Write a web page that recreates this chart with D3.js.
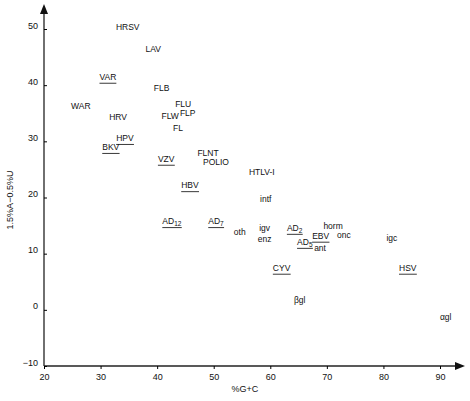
<!DOCTYPE html><html><head><meta charset="utf-8">
<script src="https://cdn.jsdelivr.net/npm/d3@7"></script>
<style>body{margin:0;background:#fff}text{font-family:"Liberation Sans",Arial,sans-serif;fill:#111}</style></head><body>
<svg id="c" width="470" height="401"></svg>
<script>
const labels=["HRSV","LAV","VAR","FLB","WAR","FLU","FLW","FLP","HRV","FL","HPV","BKV","VZV","FLNT","POLIO","HTLV-I","HBV","intf","AD|12","AD|7","oth","igv","enz","AD|2","horm","EBV","onc","AD|5","ant","igc","CYV","HSV","βgl","αgl"];
const xs=[34.8,39.3,31.3,40.8,26.5,44.6,42.3,45.4,33.1,43.7,34.3,31.8,41.6,49.0,50.4,58.5,45.8,59.2,42.6,50.4,54.6,59.0,59.0,64.3,71.1,68.9,73.0,66.1,68.8,81.5,62.0,84.3,65.2,91.0];
const ys=[50.4,46.4,41.5,39.5,36.3,36.7,34.5,35.1,34.3,32.4,30.6,29.0,26.9,27.9,26.3,24.6,22.2,19.8,15.8,15.8,13.9,14.6,12.6,14.6,14.9,13.2,13.3,12.1,11.0,12.8,7.5,7.5,1.8,-1.2];
const underlined=["VAR","HPV","BKV","VZV","HBV","AD|12","AD|7","AD|2","EBV","AD|5","CYV","HSV"];
const xTicks=[20,30,40,50,60,70,80,90], yTicks=[-10,0,10,20,30,40,50];
const svg=d3.select("#c");
const x=d3.scaleLinear().domain([20,90]).range([44,440]);
const y=d3.scaleLinear().domain([-10,50]).range([366,29]);
svg.append("g").attr("transform","translate(0,366)").call(d3.axisBottom(x).tickValues(xTicks).tickSize(3).tickFormat(d3.format("d")))
 .call(g=>{g.select(".domain").attr("d","M44,0H455");g.selectAll("text").attr("font-size",9).attr("dy","0.9em")});
svg.append("g").attr("transform","translate(44,0)").call(d3.axisLeft(y).tickValues(yTicks).tickSize(-3).tickFormat(d3.format("d")))
 .call(g=>{g.select(".domain").attr("d","M0,366V12");g.selectAll("text").attr("font-size",9).attr("x",-6).attr("dy","-0.1em")});
svg.selectAll(".domain").attr("stroke","#222").attr("stroke-width",1.3);
svg.append("path").attr("d","M455,362L465,366L455,370Z").attr("fill","#111");
svg.append("path").attr("d","M40,14L44,4L48,14Z").attr("fill","#111");
svg.append("text").attr("x",245).attr("y",392).attr("text-anchor","middle").attr("font-size",9).text("%G+C");
svg.append("text").attr("transform","translate(13,200) rotate(-90)").attr("text-anchor","middle").attr("font-size",9).text("1.5%A−0.5%U");
labels.forEach((l,i)=>{
  const t=svg.append("text").attr("x",x(xs[i])).attr("y",y(ys[i])+3).attr("text-anchor","middle").attr("font-size",8.5);
  const p=l.split("|");
  t.append("tspan").text(p[0]);
  if(p[1]) t.append("tspan").attr("font-size",6.5).attr("dy",2).text(p[1]);
  if(underlined.includes(l)){
    const b=t.node().getBBox();
    svg.append("line").attr("x1",b.x).attr("x2",b.x+b.width).attr("y1",y(ys[i])+6.5).attr("y2",y(ys[i])+6.5).attr("stroke","#222").attr("stroke-width",0.9);
  }
});
</script></body></html>
